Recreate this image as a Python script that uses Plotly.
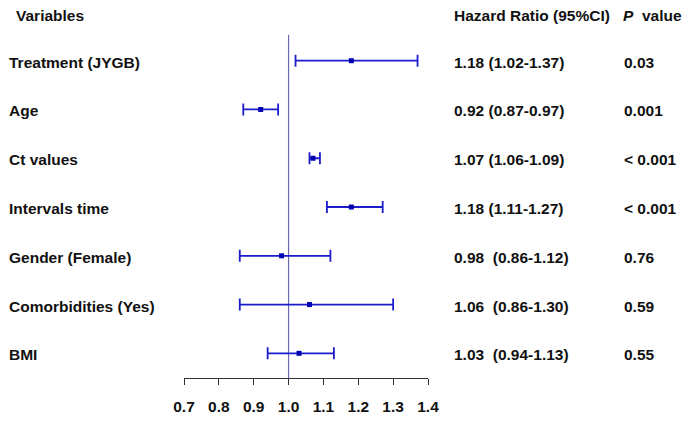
import plotly.graph_objects as go

variables = ["Treatment (JYGB)", "Age", "Ct values", "Intervals time",
             "Gender (Female)", "Comorbidities (Yes)", "BMI"]
hr = [1.18, 0.92, 1.07, 1.18, 0.98, 1.06, 1.03]
lower = [1.02, 0.87, 1.06, 1.11, 0.86, 0.86, 0.94]
upper = [1.37, 0.97, 1.09, 1.27, 1.12, 1.30, 1.13]
hr_labels = ["1.18 (1.02-1.37)", "0.92 (0.87-0.97)", "1.07 (1.06-1.09)",
             "1.18 (1.11-1.27)", "0.98\u00a0\u00a0(0.86-1.12)",
             "1.06\u00a0\u00a0(0.86-1.30)", "1.03\u00a0\u00a0(0.94-1.13)"]
p_labels = ["0.03", "0.001", "< 0.001", "< 0.001", "0.76", "0.59", "0.55"]
x_ticks = [0.7, 0.8, 0.9, 1.0, 1.1, 1.2, 1.3, 1.4]

rows = list(range(len(variables)))
FONT = "Liberation Sans, Arial, sans-serif"
BLUE = "#1c1ccc"
FS = 15.5

fig = go.Figure()
fig.add_trace(go.Scatter(
    x=hr, y=rows, mode="markers",
    marker=dict(symbol="square", size=5, color="#0000b4"),
    error_x=dict(type="data", symmetric=False,
                 array=[u - h for u, h in zip(upper, hr)],
                 arrayminus=[h - l for h, l in zip(hr, lower)],
                 color=BLUE, thickness=1.8, width=6),
    showlegend=False, hoverinfo="skip"))

# reference line at HR = 1
fig.add_shape(type="line", xref="x", yref="y", x0=1.0, x1=1.0, y0=-0.53, y1=6.506,
              line=dict(color="#6a6ab0", width=1.2), layer="below")

L, R = 184, 428
def px(p):
    return (p - L) / (R - L)

ann_font = dict(family=FONT, size=FS, color="#111111", weight="bold")
for i in rows:
    fig.add_annotation(x=px(7), y=i + 0.03, xref="paper", yref="y", text=variables[i],
                       showarrow=False, xanchor="left", yanchor="middle", font=ann_font)
    fig.add_annotation(x=px(452), y=i + 0.03, xref="paper", yref="y", text=hr_labels[i],
                       showarrow=False, xanchor="left", yanchor="middle", font=ann_font)
    fig.add_annotation(x=px(622), y=i + 0.03, xref="paper", yref="y", text=p_labels[i],
                       showarrow=False, xanchor="left", yanchor="middle", font=ann_font)

hy = -0.93
fig.add_annotation(x=px(14), y=hy, xref="paper", yref="y", text="Variables",
                   showarrow=False, xanchor="left", yanchor="middle", font=ann_font)
fig.add_annotation(x=px(452), y=hy, xref="paper", yref="y", text="Hazard Ratio (95%CI)",
                   showarrow=False, xanchor="left", yanchor="middle", font=ann_font)
fig.add_annotation(x=px(621), y=hy, xref="paper", yref="y", text="<i>P</i>\u00a0 value",
                   showarrow=False, xanchor="left", yanchor="middle", font=ann_font)

fig.update_xaxes(range=[0.7, 1.4], tickvals=x_ticks,
                 ticktext=[f"{t:.1f}" for t in x_ticks],
                 showline=True, linecolor="#333333", linewidth=1,
                 ticks="outside", ticklen=6, tickcolor="#333333", tickwidth=1,
                 showgrid=False, zeroline=False,
                 tickfont=dict(family=FONT, size=FS, color="#111111", weight="bold"),
                 ticklabelstandoff=8)
fig.update_yaxes(range=[6.506, -1.2446], visible=False, showgrid=False, zeroline=False)

fig.update_layout(width=683, height=423, plot_bgcolor="white", paper_bgcolor="white",
                  margin=dict(l=L, r=683 - R, t=0, b=45),
                  font=dict(family=FONT))

fig.write_html("out.html", config={"displayModeBar": False},
               post_script="document.body.style.margin='0';document.body.style.overflow='hidden';")
